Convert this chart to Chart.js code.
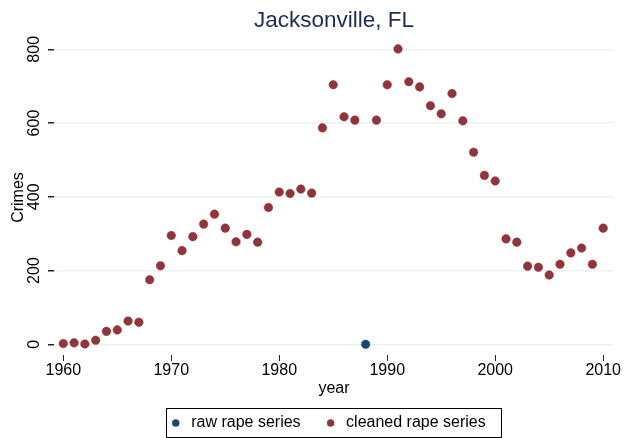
<!DOCTYPE html>
<html>
<head>
<meta charset="utf-8">
<script src="https://cdn.jsdelivr.net/npm/chart.js@4/dist/chart.umd.min.js"></script>
<style>
  html, body { margin:0; padding:0; background:#fff; }
  #wrap { width:625px; height:438px; }
</style>
</head>
<body>
<div id="wrap"><canvas id="c" width="625" height="438"></canvas></div>
<script>
// ── Data ──────────────────────────────────────────────────────────────────
const years = [1960,1961,1962,1963,1964,1965,1966,1967,1968,1969,
               1970,1971,1972,1973,1974,1975,1976,1977,1978,1979,
               1980,1981,1982,1983,1984,1985,1986,1987,1988,1989,
               1990,1991,1992,1993,1994,1995,1996,1997,1998,1999,
               2000,2001,2002,2003,2004,2005,2006,2007,2008,2009,2010];
const cleaned = [2,4,1,11,35,39,63,60,175,213,
                 295,254,292,326,353,315,278,298,277,371,
                 413,409,421,410,587,704,617,608,null,608,
                 704,801,712,698,647,625,680,606,521,458,
                 443,286,277,212,209,188,217,248,261,217,315];
const rawYears  = [1988];
const rawValues = [0];
const yTicks = [0,200,400,600,800];
const xTicks = [1960,1970,1980,1990,2000,2010];

const FONT = 'Liberation Sans';
const NAVY = '#1a476f', MAROON = '#90353b', GRID = '#eaf2f3';

const toPts = (xs, ys) => xs.map((x,i)=>({x, y:ys[i]})).filter(p=>p.y!==null);

// ── Legend: nudge left + draw the frame round the keys ──────────────────────
const legendFrame = {
  id:'legendFrame',
  afterLayout(chart) { chart.legend.left -= 7; chart.legend.right -= 7; },
  afterDraw(chart) {
    const hb = chart.legend.legendHitBoxes;
    if(!hb || !hb.length) return;
    const l = Math.min(...hb.map(b=>b.left)), r = Math.max(...hb.map(b=>b.left+b.width));
    const t = Math.min(...hb.map(b=>b.top)),  b = Math.max(...hb.map(b=>b.top+b.height));
    const ctx = chart.ctx;
    ctx.save();
    ctx.strokeStyle = '#000'; ctx.lineWidth = 1;
    ctx.strokeRect(Math.round(l-2)+0.5, Math.round(t-7)+0.5, Math.round(r-l+17), Math.round(b-t+13));
    ctx.restore();
  }
};

new Chart(document.getElementById('c'), {
  type:'scatter',
  data:{ datasets:[
    { label:'raw rape series', data:toPts(rawYears,rawValues),
      backgroundColor:NAVY, borderColor:NAVY, pointRadius:4.3, borderWidth:0.5 },
    { label:'cleaned rape series', data:toPts(years,cleaned),
      backgroundColor:MAROON, borderColor:MAROON, pointRadius:4.3, borderWidth:0.5 }
  ]},
  options:{
    responsive:false, animation:false,
    layout:{ padding:{ left:0, right:11, top:0, bottom:-3 } },
    plugins:{
      tooltip:{ enabled:false },
      title:{ display:true, text:'Jacksonville, FL', fullSize:false,
        color:'#1f2d56', font:{ family:FONT, size:22.5, weight:'normal' }, padding:{ top:7.5, bottom:5.5 } },
      legend:{ position:'bottom', fullSize:false,
        labels:{ usePointStyle:true, pointStyle:'circle', boxWidth:15, boxHeight:5,
          color:'#000', font:{ family:FONT, size:16 }, padding:22.5 } }
    },
    scales:{
      x:{ type:'linear', min:1959.14, max:2011.0,
        afterBuildTicks: ax => { ax.ticks = xTicks.map(v=>({value:v})); },
        afterFit: ax => { ax.height = 37.5; },
        border:{ display:false },
        grid:{ drawOnChartArea:false, tickLength:6, tickColor:'#222', lineWidth:1 },
        ticks:{ color:'#000', font:{ family:FONT, size:16 }, padding:0, maxRotation:0, autoSkip:false,
          callback: v => String(v) },
        title:{ display:true, text:'year', color:'#000', font:{ family:FONT, size:16 }, padding:{ top:0, bottom:-5.7 } }
      },
      y:{ type:'linear', min:-29, max:825.2,
        afterBuildTicks: ax => { ax.ticks = yTicks.map(v=>({value:v})); },
        afterFit: ax => { ax.width = 54; },
        border:{ display:false },
        grid:{ color:GRID, lineWidth:1.5, tickLength:6, tickColor:'#222' },
        ticks:{ color:'#000', font:{ family:FONT, size:16 }, minRotation:90, maxRotation:90,
          crossAlign:'center', padding:0.5, autoSkip:false },
        title:{ display:true, text:'Crimes', color:'#000', font:{ family:FONT, size:16 }, padding:{ top:9, bottom:0 } }
      }
    }
  },
  plugins:[legendFrame]
});
</script>
</body>
</html>
